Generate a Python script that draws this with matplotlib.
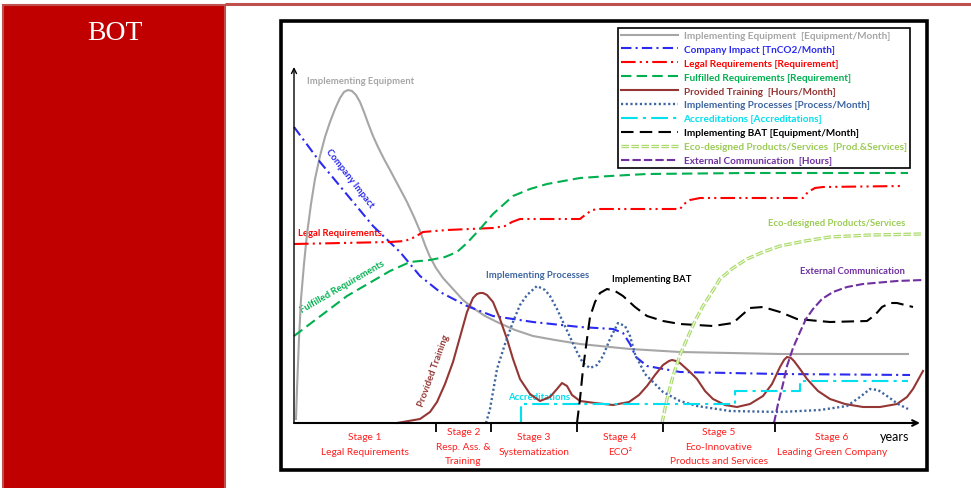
import matplotlib
matplotlib.use("Agg")
import matplotlib.pyplot as plt
import matplotlib.patheffects as pe
from matplotlib.patches import Rectangle

plt.rcParams['font.family'] = ['Lato', 'DejaVu Sans']

# ---------------- data (chart units: x = time, y = level) ----------------
equip_x = [2, 3, 5, 7, 10, 13, 17, 21, 26, 31, 36, 41, 46, 50, 54, 58, 62, 66, 70, 74, 79, 84, 90, 96, 104, 113, 120, 126, 131, 136, 142, 149, 159, 169, 179, 191, 203, 221, 239, 261, 286, 336, 386, 486, 614]
equip_y = [4, 34, 84, 124, 159, 189, 219, 244, 267, 286, 301, 314, 325, 331, 333, 332, 328, 321, 311, 300, 287, 276, 264, 253, 238, 221, 206, 192, 178, 166, 155, 145, 134, 123, 115, 107, 101, 93, 87, 83, 79, 74, 71, 69, 69]

impact_x = [0, 26, 79, 106, 126, 146, 173, 199, 239, 286, 319, 329, 336, 342, 353, 386, 486, 616]
impact_y = [296, 261, 197, 171, 147, 131, 117, 107, 101, 96, 94, 90, 79, 66, 57, 51, 49, 48]

legal_x = [0, 96, 111, 121, 129, 153, 199, 211, 218, 226, 286, 291, 298, 306, 386, 390, 396, 406, 509, 514, 521, 529, 609]
legal_y = [179, 181, 182, 186, 191, 193, 195, 197, 201, 204, 204, 208, 213, 214, 214, 219, 223, 225, 225, 231, 235, 236, 237]

fulfil_x = [0, 53, 96, 116, 136, 151, 163, 173, 186, 199, 219, 236, 253, 286, 316, 353, 453, 614]
fulfil_y = [87, 127, 152, 161, 163, 166, 171, 180, 194, 209, 227, 234, 239, 245, 247, 249, 250, 250]

train_x = [103, 126, 136, 143, 151, 159, 166, 173, 179, 183, 186, 189, 193, 199, 206, 213, 219, 226, 236, 246, 256, 263, 268, 273, 278, 286, 301, 319, 335, 345, 353, 361, 369, 375, 378, 382, 386, 396, 403, 411, 419, 431, 443, 456, 469, 478, 486, 490, 493, 497, 500, 506, 513, 524, 536, 551, 569, 586, 603, 613, 619, 629]
train_y = [0, 4, 11, 21, 39, 61, 86, 111, 125, 129, 130, 130, 128, 121, 104, 84, 64, 44, 29, 22, 26, 34, 40, 37, 28, 22, 20, 18, 21, 28, 37, 48, 58, 62, 63, 62, 60, 51, 44, 32, 24, 18, 16, 19, 27, 39, 56, 63, 66, 65, 62, 54, 44, 32, 24, 19, 16, 16, 19, 26, 34, 52]

proc_x = [192, 196, 203, 211, 219, 226, 233, 243, 251, 256, 263, 269, 276, 283, 289, 296, 303, 309, 316, 324, 331, 336, 341, 351, 369, 386, 403, 436, 486, 526, 553, 566, 576, 584, 593, 604, 614]
proc_y = [0, 14, 54, 79, 101, 118, 128, 137, 133, 127, 114, 101, 86, 71, 60, 55, 58, 67, 84, 100, 97, 87, 69, 49, 31, 22, 17, 12, 11, 13, 17, 26, 34, 33, 27, 19, 14]

accr_x = [227, 227, 441, 441, 506, 506, 614]
accr_y = [0, 19, 19, 32, 32, 42, 42]

bat_x = [283, 286, 289, 293, 296, 301, 306, 313, 321, 329, 341, 353, 369, 386, 419, 439, 448, 456, 469, 486, 503, 536, 573, 581, 588, 596, 603, 619]
bat_y = [0, 24, 54, 84, 106, 121, 130, 134, 132, 127, 116, 107, 102, 99, 97, 100, 108, 115, 116, 111, 104, 101, 102, 108, 116, 120, 120, 116]

eco_x = [368, 373, 379, 386, 393, 401, 409, 418, 426, 439, 453, 469, 486, 511, 536, 576, 629]
eco_y = [0, 24, 47, 68, 84, 102, 117, 131, 144, 155, 164, 171, 177, 182, 186, 188, 189]

comm_x = [480, 484, 489, 493, 499, 506, 512, 519, 528, 539, 553, 569, 603, 629]
comm_y = [0, 19, 39, 57, 75, 91, 104, 114, 124, 131, 136, 139, 142, 143]

stage_bounds = [0, 142, 197, 283, 369, 481, 595]
stage_labels = ["Stage 1\nLegal Requirements",
                "Stage 2\nResp. Ass. &\nTraining",
                "Stage 3\nSystematization",
                "Stage 4\nECO\u00b2",
                "Stage 5\nEco-Innovative\nProducts and Services",
                "Stage 6\nLeading Green Company"]

legend_labels = ["Implementing Equipment  [Equipment/Month]",
                 "Company Impact [TnCO2/Month]",
                 "Legal Requirements [Requirement]",
                 "Fulfilled Requirements [Requirement]",
                 "Provided Training  [Hours/Month]",
                 "Implementing Processes [Process/Month]",
                 "Accreditations [Accreditations]",
                 "Implementing BAT [Equipment/Month]",
                 "Eco-designed Products/Services  [Prod.&Services]",
                 "External Communication  [Hours]"]

C_GRAY = '#a6a6a6'
C_BLUE = '#2a2af0'
C_RED = '#ff0000'
C_GREEN = '#00b050'
C_BROWN = '#943634'
C_STEEL = '#3d65a0'
C_CYAN = '#00e0ee'
C_BLACK = '#000000'
C_ECO = '#addb6e'
C_PURPLE = '#7030a0'

# ---------------- figure ----------------
W, H = 971, 489
fig = plt.figure(figsize=(W / 100, H / 100), dpi=100)

bg = fig.add_axes([0, 0, 1, 1])
bg.set_xlim(0, W)
bg.set_ylim(H, 0)
bg.axis('off')

# left red panel
bg.add_patch(Rectangle((3, 6), 222, 490, facecolor='#c00000', edgecolor='#c0504d', lw=1.5))
bg.text(115, 33, "BOT", color='white', fontsize=20, family='Liberation Serif', ha='center', va='center')
# top red rule
bg.plot([225, 971], [5, 5], color='#c0504d', lw=2.2, solid_capstyle='butt')
# black frame
bg.add_patch(Rectangle((281, 22), 646, 449, facecolor='none', edgecolor='black', lw=2.6))

# chart axes
x0, y0, x1, y1 = 294, 424, 920, 68
ax = fig.add_axes([x0 / W, (H - y0) / H, (x1 - x0) / W, (y0 - y1) / H])
ax.set_xlim(0, x1 - x0)
ax.set_ylim(0, y0 - y1)
ax.axis('off')

ax.annotate('', xy=(0, y0 - y1), xytext=(0, 0),
            arrowprops=dict(arrowstyle='->', color='black', lw=1.0, shrinkA=0, shrinkB=0,
                            mutation_scale=9), annotation_clip=False)
ax.annotate('', xy=(x1 - x0, 0), xytext=(0, 0),
            arrowprops=dict(arrowstyle='->', color='black', lw=1.5, shrinkA=0, shrinkB=0,
                            mutation_scale=10), annotation_clip=False)
ax.vlines(stage_bounds[1:-1], -9, 0, color='black', lw=1.3, clip_on=False)

lw = 1.5
l_equip, = ax.plot(equip_x, equip_y, color=C_GRAY, lw=lw, clip_on=False, solid_joinstyle='round')
l_impact, = ax.plot(impact_x, impact_y, color=C_BLUE, lw=lw, ls=(0, (5, 2, 1, 2)), clip_on=False)
l_legal, = ax.plot(legal_x, legal_y, color=C_RED, lw=lw, ls=(0, (7, 2, 1, 2, 1, 2)), clip_on=False)
l_fulfil, = ax.plot(fulfil_x, fulfil_y, color=C_GREEN, lw=lw, ls=(0, (5, 2.5)), clip_on=False)
l_train, = ax.plot(train_x, train_y, color=C_BROWN, lw=lw, clip_on=False, solid_joinstyle='round')
l_proc, = ax.plot(proc_x, proc_y, color=C_STEEL, lw=1.7, ls=(0, (0.9, 1.1)), clip_on=False)
l_accr, = ax.plot(accr_x, accr_y, color=C_CYAN, lw=lw, ls=(0, (8, 2.5, 1.5, 2.5)), clip_on=False)
l_bat, = ax.plot(bat_x, bat_y, color=C_BLACK, lw=lw, ls=(0, (6, 3)), clip_on=False)
l_eco, = ax.plot(eco_x, eco_y, color='white', lw=0.6, ls=(0, (9, 3)), clip_on=False,
                 path_effects=[pe.Stroke(linewidth=2.4, foreground=C_ECO), pe.Normal()])
l_comm, = ax.plot(comm_x, comm_y, color=C_PURPLE, lw=lw, ls=(0, (4, 1.5)), clip_on=False)

handles = [l_equip, l_impact, l_legal, l_fulfil, l_train, l_proc, l_accr, l_bat, l_eco, l_comm]
colors = [C_GRAY, C_BLUE, C_RED, C_GREEN, C_BROWN, C_STEEL, C_CYAN, C_BLACK, '#9ccc55', C_PURPLE]
leg = ax.legend(handles, legend_labels, loc='upper left',
                bbox_to_anchor=(618 / W, 1 - 29 / H), bbox_transform=fig.transFigure,
                prop=dict(family='Lato', weight='bold', size=7.2),
                handlelength=5.7, handletextpad=0.55, labelspacing=0.49,
                borderpad=0.3, borderaxespad=0, frameon=True, fancybox=False,
                framealpha=1, edgecolor='black')
leg.get_frame().set_linewidth(1.2)
for t, c in zip(leg.get_texts(), colors):
    t.set_color(c)

# stage labels (one text per line)
for i, lab in enumerate(stage_labels):
    xc = (stage_bounds[i] + stage_bounds[i + 1]) / 2
    lines = lab.split("\n")
    ys = [-14, -29] if len(lines) == 2 else [-9, -24, -38]
    for ln, yy in zip(lines, ys):
        ax.text(xc, yy, ln, color='#ff1f1f', fontsize=7.3, ha='center', va='center',
                clip_on=False)
ax.text(601, -13, "years", color='black', fontsize=9, ha='center', va='center', clip_on=False)

# in-chart annotations (pixel positions on background)
kw = dict(family='Lato', weight='bold', fontsize=6.8, ha='center', va='center', rotation_mode='anchor')
bg.text(361, 82, "Implementing Equipment", color=C_GRAY, **kw)
bg.text(350, 179, "Company Impact", color=C_BLUE, rotation=-52, **kw)
bg.text(340, 234, "Legal Requirements", color=C_RED, **kw)
bg.text(342, 287, "Fulfilled Requirements", color=C_GREEN, rotation=30, **kw)
bg.text(434, 371, "Provided Training", color=C_BROWN, rotation=70, **kw)
bg.text(538, 275, "Implementing Processes", color=C_STEEL, **kw)
bg.text(652, 280, "Implementing BAT", color=C_BLACK, **kw)
bg.text(837, 224, "Eco-designed Products/Services", color='#9ccc55', **kw)
bg.text(852, 271, "External Communication", color=C_PURPLE, **kw)
bg.text(539, 398, "Accreditations", color=C_CYAN, **kw)

fig.savefig("out.png", dpi=100)
